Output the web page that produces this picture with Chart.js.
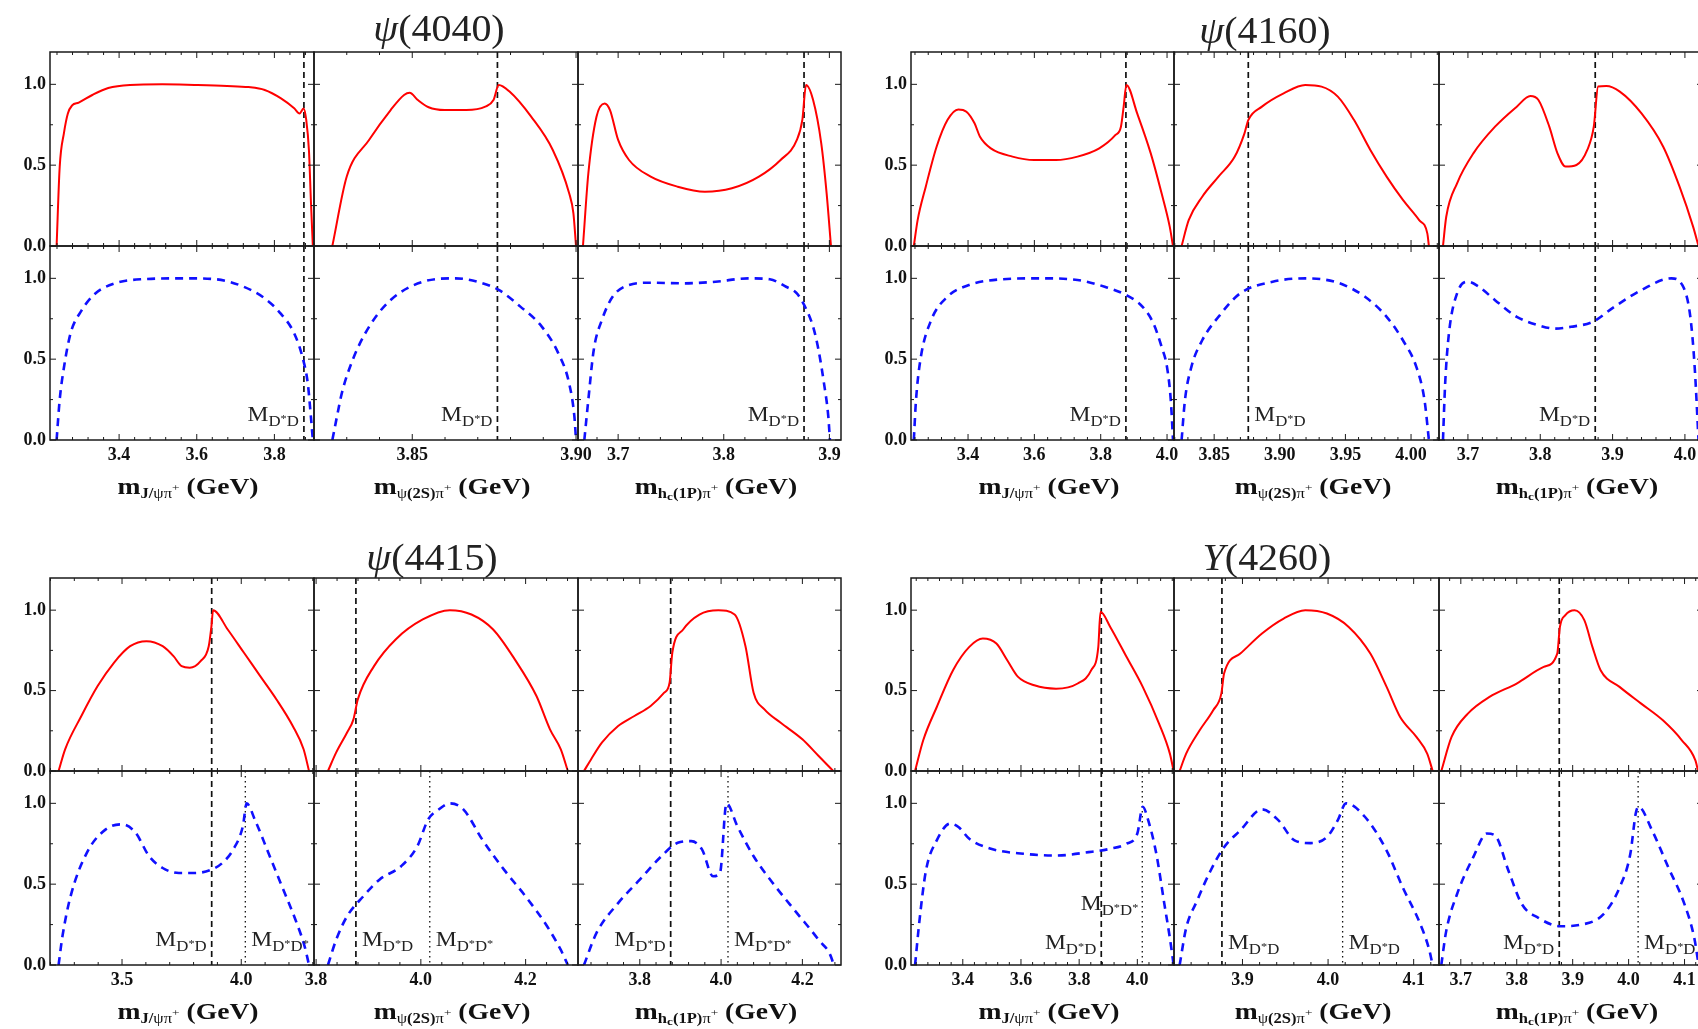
<!DOCTYPE html>
<html lang="en">
<head>
<meta charset="UTF-8">
<title>Invariant mass distributions</title>
<script src="https://cdn.jsdelivr.net/npm/chart.js"></script>
<style>
    body {
        margin: 0;
        width: 1698px;
        height: 1029px;
        overflow: hidden;
        position: relative;
        background: #fff;
        font-family: "Liberation Serif", "DejaVu Serif", serif;
    }
    canvas { position: absolute; }
    .title {
        position: absolute;
        font-size: 37px;
        color: #222;
        white-space: nowrap;
        transform: translate(-50%, -50%) scaleX(1.08);
    }
    .axt {
        position: absolute;
        font-size: 23px;
        font-weight: bold;
        color: #111;
        white-space: nowrap;
        transform: translate(-50%, -50%) scaleX(1.2);
    }
    .axt sub { font-size: 0.6em; vertical-align: -0.3em; }
    .axt sub i { font-style: normal; font-weight: normal; }
    .axt sub sup { font-size: 0.8em; vertical-align: 0.6em; font-weight: normal; }
    .axt sub sub { font-size: 0.8em; vertical-align: -0.2em; }
</style>
</head>
<body>
<script>
    // ---- data ----
    const titles = ['<i>ψ</i>(4040)', '<i>ψ</i>(4160)', '<i>ψ</i>(4415)', '<i>Y</i>(4260)'];
    const axisTitles = [
        'm<sub>J/<i>ψπ</i><sup>+</sup></sub> (GeV)',
        'm<sub><i>ψ</i>(2S)<i>π</i><sup>+</sup></sub> (GeV)',
        'm<sub>h<sub>c</sub>(1P)<i>π</i><sup>+</sup></sub> (GeV)'
    ];

    const MDD = 3.876;    // D*D threshold
    const MDsDs = 4.017;  // D*D* threshold

    const tickLabels4040 = [['3.4', '3.6', '3.8'], ['3.85', '3.90'], ['3.7', '3.8', '3.9']];
    const tickLabels4160 = [['3.4', '3.6', '3.8', '4.0'], ['3.85', '3.90', '3.95', '4.00'], ['3.7', '3.8', '3.9', '4.0']];
    const tickLabels4415 = [['3.5', '4.0'], ['3.8', '4.0', '4.2'], ['3.8', '4.0', '4.2']];
    const tickLabels4260 = [['3.4', '3.6', '3.8', '4.0'], ['3.9', '4.0', '4.1'], ['3.7', '3.8', '3.9', '4.0', '4.1']];
    const yTickLabels = ['0.0', '0.5', '1.0'];

    const range4040 = [[3.222, 3.902], [3.820, 3.9006], [3.662, 3.911]];
    const range4160 = [[3.228, 4.021], [3.8194, 4.0213], [3.660, 4.025]];
    const range4415 = [[3.198, 4.305], [3.796, 4.300], [3.648, 4.295]];
    const range4260 = [[3.222, 4.126], [3.820, 4.1296], [3.661, 4.133]];

    // psi(4040)
    const red4040Jpsi = [[3.239,0],[3.247,0.49],[3.258,0.70],[3.268,0.82],[3.279,0.87],[3.296,0.887],[3.331,0.934],[3.372,0.977],[3.428,0.996],[3.511,1.0],[3.594,0.996],[3.678,0.99],[3.733,0.983],[3.775,0.965],[3.817,0.913],[3.851,0.852],[3.865,0.82],[3.875,0.85],[3.882,0.78],[3.889,0.59],[3.894,0.28],[3.899,0]];
    const blue4040Jpsi = [[3.239,0],[3.247,0.25],[3.258,0.45],[3.275,0.66],[3.303,0.80],[3.338,0.905],[3.386,0.967],[3.456,0.994],[3.567,1.0],[3.65,0.994],[3.719,0.95],[3.775,0.876],[3.817,0.78],[3.851,0.66],[3.872,0.515],[3.886,0.35],[3.894,0.144],[3.899,0]];
    const red4040Psi2s = [[3.8256,0],[3.830,0.43],[3.8368,0.656],[3.8434,0.841],[3.8475,0.934],[3.8492,0.948],[3.8517,0.903],[3.855,0.858],[3.8599,0.841],[3.8665,0.841],[3.8723,0.862],[3.8748,0.903],[3.8764,0.996],[3.8797,0.955],[3.8863,0.8],[3.8929,0.594],[3.8979,0.326],[3.8992,0.202],[3.90,0]];
    const blue4040Psi2s = [[3.8256,0],[3.827,0.144],[3.8285,0.29],[3.8318,0.495],[3.8368,0.70],[3.8434,0.866],[3.8533,0.979],[3.8632,1.0],[3.8698,0.979],[3.8764,0.928],[3.883,0.825],[3.8896,0.70],[3.8946,0.536],[3.8979,0.35],[3.8995,0.144],[3.90,0]];
    const red4040Hc = [[3.6667,0],[3.6718,0.45],[3.6795,0.80],[3.6872,0.882],[3.6923,0.841],[3.70,0.656],[3.7103,0.532],[3.7308,0.429],[3.7564,0.367],[3.7821,0.336],[3.8077,0.357],[3.8333,0.429],[3.8538,0.532],[3.8692,0.656],[3.8744,0.78],[3.8779,0.996],[3.8846,0.903],[3.8923,0.635],[3.8974,0.326],[3.9015,0]];
    const blue4040Hc = [[3.668,0],[3.6718,0.25],[3.6769,0.557],[3.6846,0.742],[3.6949,0.887],[3.7103,0.959],[3.7308,0.973],[3.7615,0.969],[3.7923,0.979],[3.8231,1.0],[3.8436,0.994],[3.859,0.948],[3.8692,0.907],[3.8769,0.825],[3.8846,0.70],[3.8897,0.557],[3.8949,0.35],[3.899,0.144],[3.9005,0]];

    // psi(4160)
    const red4160Jpsi = [[3.2365,0],[3.248,0.16],[3.2725,0.367],[3.3052,0.614],[3.3379,0.779],[3.3706,0.845],[3.3951,0.831],[3.4196,0.759],[3.436,0.676],[3.4687,0.604],[3.534,0.553],[3.5994,0.532],[3.6648,0.532],[3.7302,0.553],[3.7956,0.604],[3.8446,0.687],[3.861,0.738],[3.8692,0.862],[3.8774,0.996],[3.91,0.82],[3.9509,0.573],[3.9836,0.326],[4.0081,0.12],[4.0179,0]];
    const blue4160Jpsi = [[3.2365,0],[3.243,0.244],[3.2561,0.493],[3.2888,0.741],[3.3379,0.886],[3.4033,0.959],[3.5014,0.994],[3.6158,1.0],[3.7302,0.99],[3.812,0.948],[3.8774,0.896],[3.9264,0.824],[3.9591,0.72],[3.9836,0.576],[3.9999,0.451],[4.0114,0.244],[4.018,0]];
    const red4160Psi2s = [[3.8252,0],[3.8306,0.16],[3.8409,0.305],[3.8533,0.429],[3.8657,0.553],[3.8731,0.697],[3.876,0.779],[3.8864,0.862],[3.9029,0.944],[3.9194,0.996],[3.9318,0.986],[3.9442,0.924],[3.9566,0.779],[3.969,0.594],[3.9814,0.429],[3.9938,0.285],[4.0062,0.16],[4.0124,0.078],[4.0136,0]];
    const blue4160Psi2s = [[3.8252,0],[3.8277,0.244],[3.8326,0.451],[3.8409,0.617],[3.8533,0.762],[3.8698,0.907],[3.8946,0.979],[3.9194,1.0],[3.9442,0.973],[3.9649,0.886],[3.9814,0.762],[3.9938,0.617],[4.0041,0.451],[4.0103,0.244],[4.0136,0]];
    const red4160Hc = [[3.6655,0],[3.67,0.181],[3.685,0.388],[3.7075,0.573],[3.7375,0.738],[3.7675,0.862],[3.7863,0.928],[3.7975,0.903],[3.8125,0.738],[3.8238,0.573],[3.835,0.491],[3.85,0.501],[3.865,0.594],[3.874,0.738],[3.88,0.986],[3.8913,0.99],[3.91,0.955],[3.94,0.82],[3.97,0.614],[3.9926,0.367],[4.0113,0.12],[4.0188,0]];
    const blue4160Hc = [[3.6655,0],[3.6685,0.348],[3.6737,0.658],[3.685,0.907],[3.70,0.979],[3.715,0.948],[3.7375,0.865],[3.7675,0.762],[3.7975,0.71],[3.82,0.689],[3.8425,0.70],[3.8725,0.731],[3.9025,0.824],[3.94,0.928],[3.9813,1.0],[3.9963,0.959],[4.0075,0.762],[4.0135,0.451],[4.0188,0]];

    // psi(4415)
    const red4415Jpsi = [[3.234,0],[3.2614,0.135],[3.3295,0.342],[3.3977,0.528],[3.4659,0.673],[3.5341,0.776],[3.6023,0.807],[3.6705,0.776],[3.7159,0.714],[3.75,0.652],[3.7841,0.642],[3.8295,0.683],[3.8636,0.776],[3.875,0.901],[3.8818,1.0],[3.9432,0.88],[4.0114,0.735],[4.0795,0.59],[4.1477,0.445],[4.2159,0.28],[4.2614,0.135],[4.2841,0]];
    const blue4415Jpsi = [[3.234,0],[3.25,0.176],[3.2841,0.424],[3.3523,0.694],[3.4318,0.839],[3.5,0.87],[3.5568,0.818],[3.6136,0.673],[3.6705,0.6],[3.7386,0.569],[3.8068,0.569],[3.875,0.59],[3.9205,0.631],[3.9659,0.714],[4.0068,0.859],[4.0227,1.0],[4.0568,0.90],[4.1136,0.694],[4.1705,0.487],[4.2273,0.28],[4.2659,0.114],[4.2841,0]];
    const red4415Psi2s = [[3.8227,0],[3.8382,0.114],[3.8589,0.238],[3.8713,0.321],[3.8796,0.445],[3.9106,0.652],[3.9519,0.818],[4.0036,0.942],[4.0553,1.0],[4.0966,0.973],[4.138,0.88],[4.1793,0.694],[4.2207,0.466],[4.2465,0.259],[4.2672,0.135],[4.2806,0]];
    const blue4415Psi2s = [[3.8227,0],[3.8382,0.155],[3.8589,0.3],[3.8899,0.424],[3.9209,0.528],[3.9623,0.611],[3.9933,0.735],[4.014,0.901],[4.0346,0.963],[4.0553,1.0],[4.0811,0.963],[4.1173,0.776],[4.1587,0.59],[4.2,0.424],[4.2413,0.238],[4.2672,0.093],[4.2806,0]];
    const red4415Hc = [[3.6627,0],[3.68,0.072],[3.7067,0.176],[3.7467,0.28],[3.7867,0.342],[3.8267,0.404],[3.86,0.487],[3.8733,0.549],[3.88,0.735],[3.9067,0.88],[3.9467,0.973],[3.9933,1.0],[4.0333,0.973],[4.06,0.776],[4.08,0.487],[4.1067,0.383],[4.1467,0.3],[4.2,0.197],[4.24,0.093],[4.276,0]];
    const blue4415Hc = [[3.6627,0],[3.6933,0.197],[3.7467,0.383],[3.8,0.528],[3.8533,0.673],[3.8933,0.756],[3.9267,0.766],[3.9533,0.714],[3.98,0.549],[3.9973,0.569],[4.0133,1.0],[4.04,0.859],[4.08,0.673],[4.1333,0.487],[4.1867,0.321],[4.24,0.155],[4.2733,0.031],[4.276,0]];

    // Y(4260)
    const red4260Jpsi = [[3.236,0],[3.264,0.191],[3.3106,0.398],[3.3665,0.627],[3.4224,0.772],[3.4689,0.824],[3.5155,0.793],[3.5528,0.689],[3.59,0.585],[3.6459,0.533],[3.7205,0.512],[3.795,0.544],[3.8416,0.627],[3.8658,0.772],[3.8733,0.99],[3.9068,0.896],[3.9627,0.71],[4.0186,0.523],[4.0745,0.295],[4.1118,0.108],[4.1248,0]];
    const blue4260Jpsi = [[3.236,0],[3.2509,0.271],[3.2733,0.583],[3.3106,0.771],[3.3571,0.875],[3.3851,0.854],[3.4224,0.781],[3.4969,0.719],[3.6087,0.688],[3.7205,0.677],[3.8323,0.698],[3.9068,0.719],[3.9627,0.75],[4.0,0.813],[4.0186,0.979],[4.0372,0.896],[4.0652,0.688],[4.0931,0.375],[4.1118,0.167],[4.1248,0]];
    const red4260Psi2s = [[3.8266,0],[3.8342,0.108],[3.85,0.253],[3.8658,0.378],[3.8753,0.481],[3.8785,0.606],[3.8975,0.73],[3.9228,0.855],[3.9481,0.948],[3.9734,1.0],[3.9987,0.979],[4.0241,0.896],[4.0494,0.73],[4.0684,0.523],[4.0842,0.336],[4.1032,0.212],[4.1158,0.108],[4.1222,0]];
    const blue4260Psi2s = [[3.8266,0],[3.8342,0.229],[3.8468,0.396],[3.8627,0.583],[3.8785,0.729],[3.8975,0.833],[3.9228,0.963],[3.9418,0.896],[3.9608,0.771],[3.9797,0.754],[3.9987,0.792],[4.0114,0.896],[4.0209,1.0],[4.043,0.917],[4.0684,0.708],[4.0873,0.479],[4.1063,0.271],[4.1177,0.104],[4.1222,0]];
    const red4260Hc = [[3.6651,0],[3.6835,0.212],[3.7126,0.357],[3.7513,0.461],[3.7998,0.544],[3.8482,0.647],[3.8724,0.73],[3.8772,0.896],[3.8869,0.969],[3.9034,1.0],[3.9208,0.938],[3.9353,0.772],[3.9499,0.627],[3.9838,0.523],[4.0225,0.419],[4.0613,0.315],[4.0952,0.191],[4.1194,0.066],[4.1242,0]];
    const blue4260Hc = [[3.6651,0],[3.6738,0.208],[3.6932,0.438],[3.7223,0.667],[3.7465,0.813],[3.761,0.802],[3.7852,0.583],[3.8094,0.375],[3.8385,0.292],[3.8772,0.24],[3.916,0.25],[3.9547,0.313],[3.9838,0.479],[4.0031,0.688],[4.0128,0.938],[4.0177,0.979],[4.0419,0.833],[4.071,0.604],[4.1,0.375],[4.1174,0.167],[4.1252,0]];

    // threshold annotations in the lower panels: [x, y, side, subscript]
    const marks4040 = [[[MDD, 0.12, 'right', 'D*D']], [[MDD, 0.12, 'right', 'D*D']], [[MDD, 0.12, 'right', 'D*D']]];
    const marks4160 = [[[MDD, 0.12, 'right', 'D*D']], [[MDD, 0.12, 'left', 'D*D']], [[MDD, 0.12, 'right', 'D*D']]];
    const marks4415 = [
        [[MDD, 0.12, 'right', 'D*D'], [MDsDs, 0.12, 'left', 'D*D*']],
        [[MDD, 0.12, 'left', 'D*D'], [MDsDs, 0.12, 'left', 'D*D*']],
        [[MDD, 0.12, 'right', 'D*D'], [MDsDs, 0.12, 'left', 'D*D*']]
    ];
    const marks4260 = [
        [[MDD, 0.10, 'right', 'D*D'], [3.785, 0.34, 'left', 'D*D*']],
        [[MDD, 0.10, 'left', 'D*D'], [MDsDs, 0.10, 'left', 'D*D']],
        [[MDD, 0.10, 'right', 'D*D'], [MDsDs, 0.10, 'left', 'D*D']]
    ];

    // ---- page layout (pixels) ----
    const groups = [
        { cols: [50, 314, 578, 841], rows: [52, 246, 440], titleAt: [439, 28], ticks: tickLabels4040, range: range4040,
          red: [red4040Jpsi, red4040Psi2s, red4040Hc], blue: [blue4040Jpsi, blue4040Psi2s, blue4040Hc], marks: marks4040, dotted: false },
        { cols: [911, 1174, 1439, 1703], rows: [52, 246, 440], titleAt: [1265, 30], ticks: tickLabels4160, range: range4160,
          red: [red4160Jpsi, red4160Psi2s, red4160Hc], blue: [blue4160Jpsi, blue4160Psi2s, blue4160Hc], marks: marks4160, dotted: false },
        { cols: [50, 314, 578, 841], rows: [578, 771, 965], titleAt: [432, 557], ticks: tickLabels4415, range: range4415,
          red: [red4415Jpsi, red4415Psi2s, red4415Hc], blue: [blue4415Jpsi, blue4415Psi2s, blue4415Hc], marks: marks4415, dotted: true },
        { cols: [911, 1174, 1439, 1703], rows: [578, 771, 965], titleAt: [1267, 557], ticks: tickLabels4260, range: range4260,
          red: [red4260Jpsi, red4260Psi2s, red4260Hc], blue: [blue4260Jpsi, blue4260Psi2s, blue4260Hc], marks: marks4260, dotted: true }
    ];

    const FONT = '"Liberation Serif", "DejaVu Serif", serif';
    const ML = 50, MR = 26, MT = 6, MB = 34;

    // frame, inward ticks, threshold lines and M labels
    const panelDecor = {
        id: 'panelDecor',
        beforeDatasetsDraw(chart, args, o) {
            const { ctx, chartArea: a, scales: { x } } = chart;
            ctx.save();
            ctx.strokeStyle = '#111';
            o.lines.forEach(l => {
                const px = x.getPixelForValue(l.x);
                ctx.setLineDash(l.dotted ? [1.4, 3.6] : [6, 4]);
                ctx.lineWidth = l.dotted ? 1.3 : 1.7;
                ctx.beginPath();
                ctx.moveTo(px, a.top);
                ctx.lineTo(px, a.bottom);
                ctx.stroke();
            });
            ctx.restore();
        },
        afterDatasetsDraw(chart, args, o) {
            const { ctx, chartArea: a, scales: { x, y } } = chart;
            ctx.save();
            ctx.strokeStyle = '#1a1a1a';
            ctx.lineWidth = 1.5;
            ctx.strokeRect(a.left, a.top, a.right - a.left, a.bottom - a.top);

            ctx.lineWidth = 1;
            const major = x.ticks.map(t => t.value);
            const step = (major[1] - major[0]) / 5;
            for (let k = Math.ceil(x.min / step - 1e-6); k * step <= x.max + 1e-9; k++) {
                const v = k * step;
                const len = major.some(m => Math.abs(m - v) < step / 10) ? 6 : 3;
                const px = x.getPixelForValue(v);
                ctx.beginPath();
                ctx.moveTo(px, a.bottom); ctx.lineTo(px, a.bottom - len);
                ctx.moveTo(px, a.top); ctx.lineTo(px, a.top + len);
                ctx.stroke();
            }
            for (let k = 0; k <= 4; k++) {
                const py = y.getPixelForValue(k * 0.25);
                const len = k % 2 === 0 ? 6 : 3;
                ctx.beginPath();
                ctx.moveTo(a.left, py); ctx.lineTo(a.left + len, py);
                ctx.moveTo(a.right, py); ctx.lineTo(a.right - len, py);
                ctx.stroke();
            }

            ctx.fillStyle = '#222';
            ctx.textAlign = 'left';
            ctx.textBaseline = 'alphabetic';
            o.labels.forEach(([xv, yv, side, sub]) => {
                const px = x.getPixelForValue(xv), py = y.getPixelForValue(yv);
                const pieces = [['M', `21px ${FONT}`, 0]].concat(
                    sub.split('').map(c => c === '*' ? ['*', `11px ${FONT}`, 1] : [c, `15px ${FONT}`, 5]));
                let w = 0;
                pieces.forEach(p => { ctx.font = p[1]; p.push(ctx.measureText(p[0]).width * 1.12); w += p[3]; });
                let cx = side === 'right' ? px - 5 - w : px + 6;
                pieces.forEach(p => {
                    ctx.font = p[1];
                    ctx.save();
                    ctx.translate(cx, py + p[2]);
                    ctx.scale(1.12, 1);
                    ctx.fillText(p[0], 0, 0);
                    ctx.restore();
                    cx += p[3];
                });
            });
            ctx.restore();
        }
    };

    function addPanel(g, col, row, pts, isBlue) {
        const left = g.cols[col], right = g.cols[col + 1];
        const top = g.rows[row], bottom = g.rows[row + 1];
        const labels = g.ticks[col];
        const cv = document.createElement('canvas');
        cv.width = right - left + ML + MR;
        cv.height = bottom - top + MT + MB;
        cv.style.left = (left - ML) + 'px';
        cv.style.top = (top - MT) + 'px';
        document.body.appendChild(cv);

        const lines = [{ x: MDD, dotted: false }];
        if (row === 1 && g.dotted) lines.push({ x: MDsDs, dotted: true });

        const tickFont = { family: FONT, size: 18, weight: 'bold' };
        new Chart(cv, {
            type: 'line',
            data: {
                datasets: [{
                    data: pts.map(p => ({ x: p[0], y: p[1] })),
                    borderColor: isBlue ? '#1010ff' : '#ff0000',
                    borderWidth: isBlue ? 2.6 : 2,
                    borderDash: isBlue ? [8, 6] : [],
                    pointRadius: 0,
                    cubicInterpolationMode: 'monotone',
                    fill: false
                }]
            },
            options: {
                responsive: false,
                animation: false,
                events: [],
                layout: { padding: { left: 0, right: MR, top: MT, bottom: 0 } },
                plugins: {
                    legend: { display: false },
                    tooltip: { enabled: false },
                    panelDecor: { lines: lines, labels: row === 1 ? g.marks[col] : [] }
                },
                scales: {
                    x: {
                        type: 'linear',
                        bounds: 'data',
                        min: g.range[col][0],
                        max: g.range[col][1],
                        grid: { display: false, drawTicks: false },
                        border: { display: false },
                        ticks: {
                            display: row === 1,
                            autoSkip: false,
                            maxRotation: 0,
                            minRotation: 0,
                            padding: 5,
                            color: '#111',
                            font: tickFont,
                            callback: (v, i) => labels[i]
                        },
                        afterBuildTicks: s => { s.ticks = labels.map(t => ({ value: Number(t) })); },
                        afterFit: s => { s.height = MB; s.paddingLeft = 0; s.paddingRight = 0; }
                    },
                    y: {
                        type: 'linear',
                        bounds: 'data',
                        min: 0,
                        max: 1.2,
                        grid: { display: false, drawTicks: false },
                        border: { display: false },
                        ticks: {
                            display: col === 0,
                            autoSkip: false,
                            padding: 4,
                            color: '#111',
                            font: tickFont,
                            callback: (v, i) => yTickLabels[i]
                        },
                        afterBuildTicks: s => { s.ticks = yTickLabels.map(t => ({ value: Number(t) })); },
                        afterFit: s => { s.width = ML; s.paddingTop = 0; s.paddingBottom = 0; }
                    }
                }
            },
            plugins: [panelDecor]
        });
    }

    groups.forEach((g, gi) => {
        for (let c = 0; c < 3; c++) {
            addPanel(g, c, 0, g.red[c], false);
            addPanel(g, c, 1, g.blue[c], true);

            const t = document.createElement('div');
            t.className = 'axt';
            t.innerHTML = axisTitles[c];
            t.style.left = ((g.cols[c] + g.cols[c + 1]) / 2 + 6) + 'px';
            t.style.top = (g.rows[2] + 48) + 'px';
            document.body.appendChild(t);
        }
        const h = document.createElement('div');
        h.className = 'title';
        h.innerHTML = titles[gi];
        h.style.left = g.titleAt[0] + 'px';
        h.style.top = g.titleAt[1] + 'px';
        document.body.appendChild(h);
    });
</script>
</body>
</html>
